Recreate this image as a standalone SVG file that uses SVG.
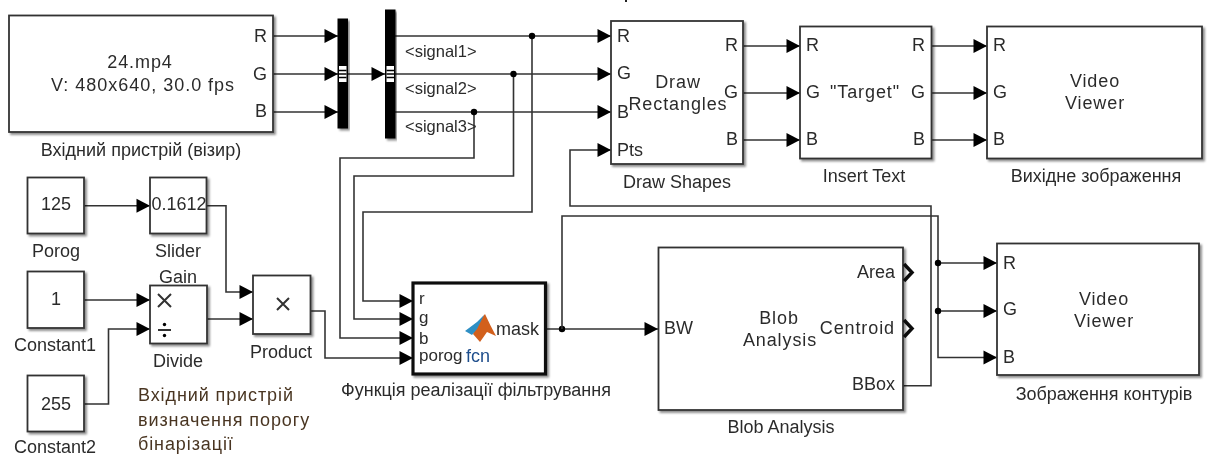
<svg xmlns="http://www.w3.org/2000/svg" width="1210" height="456" viewBox="0 0 1210 456">
<defs>
<filter id="soft" x="0" y="0" width="1210" height="456" filterUnits="userSpaceOnUse"><feGaussianBlur stdDeviation="0.45"/></filter>
<filter id="shadow" x="-5%" y="-5%" width="115%" height="115%"><feDropShadow dx="2" dy="2" stdDeviation="1.2" flood-color="#000" flood-opacity="0.45"/></filter>
<marker id="arrow" markerUnits="userSpaceOnUse" markerWidth="15" markerHeight="15" viewBox="0 0 15 15" refX="14" refY="7.5" orient="auto"><path d="M0.500,0.500 L14,7.500 L0.500,14.500 Z" fill="#000"/></marker>
</defs>
<style>
text{font-family:"Liberation Sans",Arial,sans-serif;font-size:18px;fill:#2c2c2c;}
.c{text-anchor:middle;}
.e{text-anchor:end;}
.s{font-size:16.500px;}
.m{font-size:18px;letter-spacing:0.900px;}
.n{font-size:18px;letter-spacing:0.900px;fill:#4a3622;}
.p{font-size:17px;}
.b{fill:#fff;stroke:#333;stroke-width:1.800;filter:url(#shadow);}
.k{fill:#fff;stroke:#111;stroke-width:3.200;filter:url(#shadow);}
.w{fill:none;stroke:#333;stroke-width:1.600;}
.a{marker-end:url(#arrow);}
.bar{fill:#000;filter:url(#shadow);}
.dot{fill:#000;stroke:none;}
.o{fill:none;stroke:#111;stroke-width:3.500;}
</style>
<rect width="1210" height="456" fill="#fff"/>
<g filter="url(#soft)">
<rect x="625" y="0" width="2" height="2" fill="#222"/>
<g id="connectors">
<path class="w a" d="M273,36H338"/><path class="w a" d="M273,74H338"/><path class="w a" d="M273,112H338"/>
<path class="w a" d="M347,74H385"/>
<path class="w a" d="M395,36H611"/><path class="w a" d="M395,74H611"/><path class="w a" d="M395,112H611"/>
<path class="w a" d="M474,112V158H340V338H413"/>
<path class="w a" d="M513.500,74V176H354V319H413"/>
<path class="w a" d="M532,36V212H363V301H413"/>
<circle class="dot" cx="532" cy="36" r="3.200"/><circle class="dot" cx="513.500" cy="74" r="3.200"/><circle class="dot" cx="474" cy="112" r="3.200"/>
<path class="w a" d="M743,46H800"/><path class="w a" d="M743,93H800"/><path class="w a" d="M743,140H800"/>
<path class="w a" d="M931,46H987"/><path class="w a" d="M931,93H987"/><path class="w a" d="M931,140H987"/>
<path class="w a" d="M84,205.700H150"/>
<path class="w a" d="M206,205.700H226V292H253"/>
<path class="w a" d="M84,300H150"/>
<path class="w a" d="M84,404H108.500V329H150"/>
<path class="w a" d="M207,319H253"/>
<path class="w a" d="M310,311H325V358H413"/>
<path class="w a" d="M546,329H658"/>
<circle class="dot" cx="562" cy="329" r="3.200"/>
<path class="w" d="M562,329V216H938V263"/>
<path class="w a" d="M938,263H997"/><path class="w a" d="M938,263V311H997"/><path class="w a" d="M938,311V357.500H997"/>
<circle class="dot" cx="938" cy="263" r="3.200"/><circle class="dot" cx="938" cy="311" r="3.200"/>
<path class="w a" d="M903,385.700H931V206H570V150H611"/>
</g>
<g id="source"><rect class="b" x="9" y="15.500" width="264" height="116.500"/>
<text class="c m" x="140" y="68">24.mp4</text><text class="c m" x="143" y="91" textLength="184" lengthAdjust="spacing">V: 480x640, 30.0 fps</text>
<text class="e" x="267" y="42">R</text><text class="e" x="267" y="79.500">G</text><text class="e" x="267" y="117">B</text>
<text class="c" x="141" y="156">Вхідний пристрій (візир)</text></g>
<g id="mux"><rect class="bar" x="337.500" y="18.500" width="10.500" height="110"/>
<rect x="339" y="66" width="7.500" height="16" fill="#fff"/><path d="M339,70.500H346.500M339,74H346.500M339,77.500H346.500" stroke="#000" stroke-width="1.300"/></g>
<g id="demux"><rect class="bar" x="385" y="9.500" width="10.500" height="129"/>
<rect x="386.500" y="66" width="7.500" height="16" fill="#fff"/><path d="M386.500,70.500H394M386.500,74H394M386.500,77.500H394" stroke="#000" stroke-width="1.300"/></g>
<g id="signals"><text class="s" x="405" y="57">&lt;signal1&gt;</text><text class="s" x="405" y="94">&lt;signal2&gt;</text><text class="s" x="405" y="132">&lt;signal3&gt;</text></g>
<g id="draw-shapes"><rect class="b" x="611" y="21" width="132" height="143"/>
<text x="617" y="41.500">R</text><text x="617" y="79">G</text><text x="617" y="118">B</text><text x="617" y="155.500">Pts</text>
<text class="e" x="738" y="50.500">R</text><text class="e" x="738" y="97.500">G</text><text class="e" x="738" y="144.500">B</text>
<text class="c m" x="678" y="87.500">Draw</text><text class="c m" x="678" y="110">Rectangles</text>
<text class="c" x="677" y="188">Draw Shapes</text></g>
<g id="insert-text"><rect class="b" x="800" y="26.500" width="131.500" height="132"/>
<text x="806" y="50.500">R</text><text x="806" y="97.500">G</text><text x="806" y="144.500">B</text>
<text class="c m" x="865" y="98">"Target"</text>
<text class="e" x="925" y="50.500">R</text><text class="e" x="925" y="97.500">G</text><text class="e" x="925" y="144.500">B</text>
<text class="c" x="864" y="182">Insert Text</text></g>
<g id="viewer1"><rect class="b" x="987" y="26.500" width="215" height="132"/>
<text x="993" y="50.500">R</text><text x="993" y="97.500">G</text><text x="993" y="144.500">B</text>
<text class="c m" x="1095" y="87">Video</text><text class="c m" x="1095" y="109">Viewer</text>
<text class="c" x="1096" y="182">Вихідне зображення</text></g>
<g id="porog"><rect class="b" x="27.500" y="177.500" width="56.500" height="56"/>
<text class="c" x="56" y="210">125</text><text class="c" x="56" y="257">Porog</text></g>
<g id="slider"><rect class="b" x="150" y="177.500" width="56.500" height="56"/>
<text class="c" x="179" y="210">0.1612</text><text class="c" x="178" y="257">Slider</text><text class="c" x="178" y="283">Gain</text></g>
<g id="constant1"><rect class="b" x="27.500" y="271.500" width="56.500" height="56.500"/>
<text class="c" x="56" y="305">1</text><text class="c" x="55" y="351">Constant1</text></g>
<g id="constant2"><rect class="b" x="27.500" y="375.500" width="56.500" height="56"/>
<text class="c" x="56" y="410">255</text><text class="c" x="55" y="452.500">Constant2</text></g>
<g id="divide"><rect class="b" x="150" y="285.500" width="57" height="58"/>
<path d="M158,294L171,307M171,294L158,307M158,330H171" class="w" style="stroke-width:2"/><circle class="dot" cx="164.500" cy="324.500" r="1.700"/><circle class="dot" cx="164.500" cy="335.500" r="1.700"/>
<text class="c" x="178" y="367">Divide</text></g>
<g id="product"><rect class="b" x="253" y="275.500" width="57.500" height="58.500"/>
<path d="M277,298L289,310M289,298L277,310" class="w" style="stroke-width:2"/>
<text class="c" x="281" y="358">Product</text></g>
<g id="threshold-note"><text class="n" x="138" y="401">Вхідний пристрій</text><text class="n" x="138" y="426">визначення порогу</text><text class="n" x="138" y="449.500">бінарізації</text></g>
<g id="fcn"><rect class="k" x="413" y="283" width="132.500" height="91"/>
<text class="p" x="419" y="304">r</text><text class="p" x="419" y="323">g</text><text class="p" x="419" y="344">b</text><text class="p" x="419" y="361">porog</text>
<text x="466" y="362" style="fill:#1f4e8c">fcn</text>
<text class="e" x="539" y="334.500">mask</text>
<path d="M476,325L485,314Q490,325 496,336L487,332L480,342L473,334Z" fill="#d2601f"/><path d="M465,331L477,322L484,315L477,329L472,335Z" fill="#2f8fc4"/>
<text class="c" x="476" y="396">Функція реалізації фільтрування</text></g>
<g id="blob"><rect class="b" x="658.500" y="247.500" width="244.500" height="162.500"/>
<text x="664" y="334">BW</text><text class="c m" x="779" y="323.500">Blob</text><text class="c m" x="780" y="346">Analysis</text>
<text class="e" x="895" y="278">Area</text><text class="e m" x="895" y="334">Centroid</text><text class="e" x="895" y="390">BBox</text>
<path class="o" d="M904,264L912,272.500L904,281"/><path class="o" d="M904,320L912,328.500L904,337"/>
<text class="c" x="781" y="433">Blob Analysis</text></g>
<g id="viewer2"><rect class="b" x="997" y="243.500" width="202" height="131.500"/>
<text x="1003" y="268.500">R</text><text x="1003" y="315">G</text><text x="1003" y="362.500">B</text>
<text class="c m" x="1104" y="305">Video</text><text class="c m" x="1104" y="327">Viewer</text>
<text class="c" x="1104" y="399.500">Зображення контурів</text></g>
</g>
</svg>
